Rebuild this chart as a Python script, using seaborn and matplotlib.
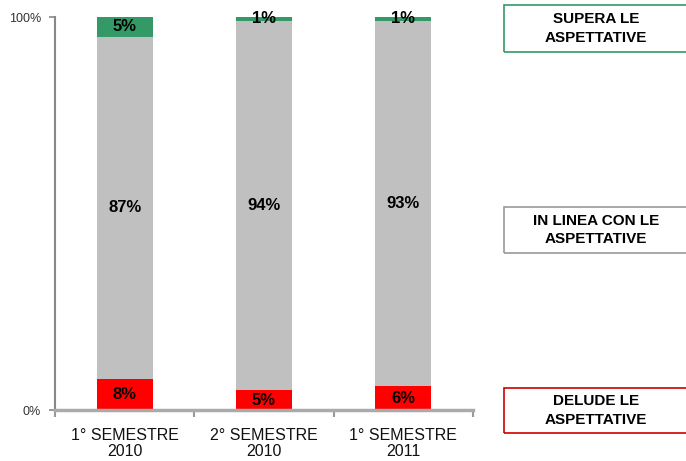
import matplotlib
matplotlib.use("Agg")
import matplotlib.pyplot as plt
from matplotlib.patches import Rectangle
import seaborn as sns
import pandas as pd
import numpy as np

# Survey results per half-year period (percent of answers)
periods = ["1° SEMESTRE\n2010", "2° SEMESTRE\n2010", "1° SEMESTRE\n2011"]
delude = [8, 5, 6]        # below expectations
in_linea = [87, 94, 93]   # in line with expectations
supera = [5, 1, 1]        # above expectations
y_ticks = [0, 100]
y_tick_labels = ["0%", "100%"]
legend_labels = ["SUPERA LE\nASPETTATIVE", "IN LINEA CON LE\nASPETTATIVE", "DELUDE LE\nASPETTATIVE"]

GREEN = "#339966"
GREY = "#C0C0C0"
RED = "#FF0000"

sns.set_theme(style="white")
plt.rcParams["font.family"] = ["Liberation Sans", "DejaVu Sans"]

W, H = 686, 461
fig = plt.figure(figsize=(W / 100, H / 100), dpi=100)
ax = fig.add_axes([55 / W, 1 - 410 / H, 418 / W, 393 / H])

df = pd.DataFrame({"period": periods, "delude": delude,
                   "in_linea": in_linea, "supera": supera})
df["cum_low"] = df["delude"]
df["cum_mid"] = df["delude"] + df["in_linea"]
df["cum_top"] = df["cum_mid"] + df["supera"]

# Stacked bars drawn as overlapping cumulative totals, top layer first
for col, colr in [("cum_top", GREEN), ("cum_mid", GREY), ("cum_low", RED)]:
    sns.barplot(data=df, x="period", y=col, color=colr, width=0.4,
                saturation=1, edgecolor="none", ax=ax, order=periods)

# Segment value labels centred in each segment
for i in range(len(periods)):
    segs = [(0, delude[i]), (delude[i], in_linea[i]),
            (delude[i] + in_linea[i], supera[i])]
    for base, val in segs:
        ax.text(i, base + val / 2, f"{val}%", ha="center", va="center",
                fontsize=12, fontweight="bold", color="black")

ax.set_xlim(-0.5, len(periods) - 0.5)
ax.set_ylim(0, 100)
ax.set_xlabel("")
ax.set_ylabel("")
ax.set_yticks(y_ticks)
ax.set_yticklabels(y_tick_labels, fontsize=9, color="#333333")
ax.set_xticks(range(len(periods)))
ax.set_xticklabels(periods, fontsize=11.5, color="#111111", linespacing=1.12)
ax.set_xticks(np.arange(-0.5, len(periods)), minor=True)
ax.tick_params(axis="x", which="major", length=0, pad=13)
ax.tick_params(axis="x", which="minor", length=5, width=1.5, color="#999999",
               direction="out", bottom=True)
ax.tick_params(axis="y", length=4, width=1.2, color="#888888",
               direction="out", left=True, pad=6)

for side in ["top", "right"]:
    ax.spines[side].set_visible(False)
ax.spines["left"].set_color("#888888")
ax.spines["left"].set_linewidth(1.5)
ax.spines["bottom"].set_color("#AAAAAA")
ax.spines["bottom"].set_linewidth(2.5)

# Category boxes on the right
boxes = [(5, 52, GREEN), (207, 253, "#999999"), (388, 433, "#CC0000")]
for (top, bottom, ec), label in zip(boxes, legend_labels):
    x0 = 504
    fig.patches.append(Rectangle((x0 / W, 1 - bottom / H), 190 / W,
                                 (bottom - top) / H, transform=fig.transFigure,
                                 fill=False, edgecolor=ec, linewidth=1.2))
    fig.text(596 / W, 1 - (top + bottom) / 2 / H, label, ha="center",
             va="center", fontsize=11, fontweight="bold", color="black",
             linespacing=1.4)

fig.savefig("out.png", dpi=100)
